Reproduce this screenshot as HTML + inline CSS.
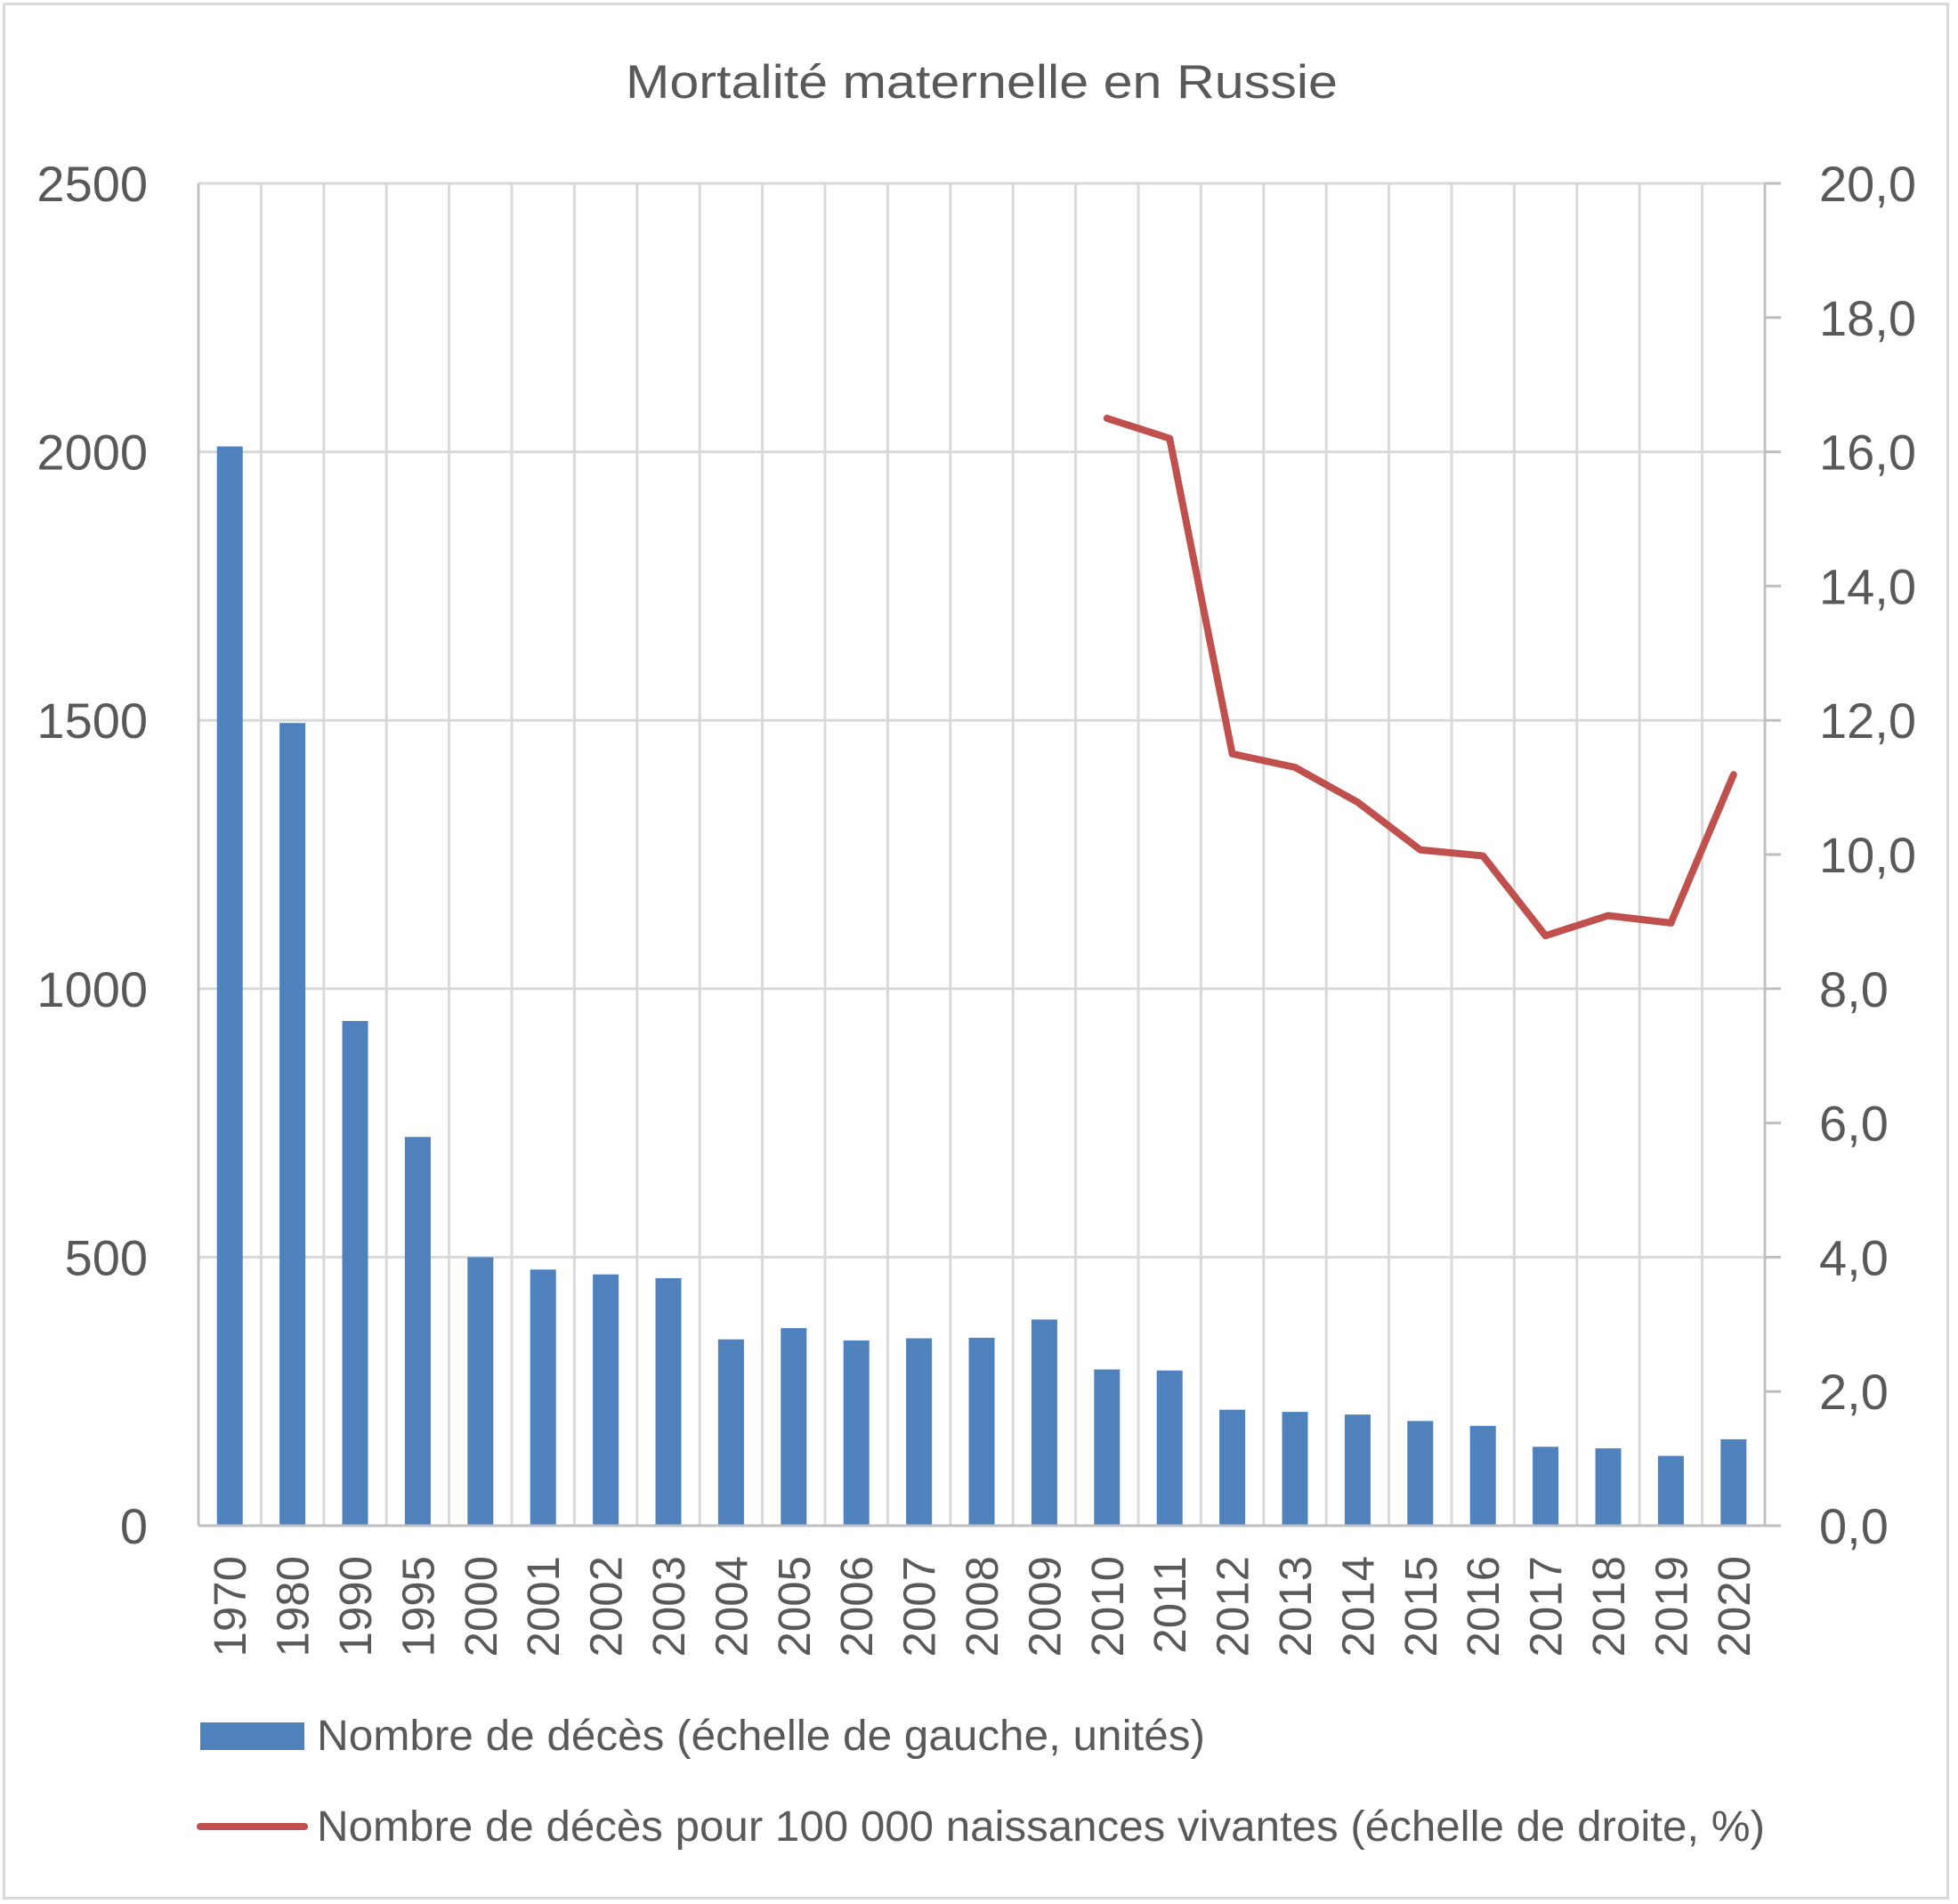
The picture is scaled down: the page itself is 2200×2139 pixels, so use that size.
<!DOCTYPE html>
<html><head><meta charset="utf-8"><style>
html,body{margin:0;padding:0;background:#fff}
svg{display:block}
text{font-family:"Liberation Sans",sans-serif;fill:#595959}
</style></head><body>
<svg width="2200" height="2139" viewBox="0 0 2200 2139" xmlns="http://www.w3.org/2000/svg">
<rect x="0" y="0" width="2200" height="2139" fill="#fff"/>
<rect x="4.5" y="4.5" width="2184" height="2128" fill="none" stroke="#d9d9d9" stroke-width="3"/>
<text x="1103" y="110" font-size="53" text-anchor="middle" textLength="800" lengthAdjust="spacingAndGlyphs">Mortalité maternelle en Russie</text>
<g id="grid" stroke="#d9d9d9" stroke-width="3"></g>
<g id="bars" fill="#4f81bd"></g>
<g id="axes" stroke="#bfbfbf" stroke-width="3"></g>
<g id="labels" font-size="56"></g>
<g id="xlabels" font-size="51"></g>
<polyline id="line" fill="none" stroke="#c0504d" stroke-width="8" stroke-linejoin="round" stroke-linecap="round"/>
<rect x="225" y="1935" width="117" height="31" fill="#4f81bd"/>
<text x="356" y="1966" font-size="48" textLength="998" lengthAdjust="spacingAndGlyphs">Nombre de décès (échelle de gauche, unités)</text>
<line x1="225" y1="2052" x2="342" y2="2052" stroke="#c0504d" stroke-width="8" stroke-linecap="round"/>
<text x="356" y="2068" font-size="48" textLength="1627" lengthAdjust="spacingAndGlyphs">Nombre de décès pour 100 000 naissances vivantes (échelle de droite, %)</text>
</svg>
<script>
const NS="http://www.w3.org/2000/svg";
const L=223,R=1983,T=206,B=1714,n=25,w=(R-L)/n;
const years=["1970","1980","1990","1995","2000","2001","2002","2003","2004","2005","2006","2007","2008","2009","2010","2011","2012","2013","2014","2015","2016","2017","2018","2019","2020"];
const vals=[2010,1495,940,724,500,477,468,461,347,368,345,349,350,384,291,289,216,212,207,195,186,147,144,130,161];
const rate={14:16.5,15:16.2,16:11.5,17:11.3,18:10.78,19:10.07,20:9.98,21:8.79,22:9.09,23:8.98,24:11.19};
function el(t,a,p,txt){const e=document.createElementNS(NS,t);for(const k in a)e.setAttribute(k,a[k]);if(txt)e.textContent=txt;document.getElementById(p).appendChild(e);return e;}
for(let i=1;i<=5;i++){const y=B-(B-T)*i/5;el('line',{x1:L,y1:y,x2:R,y2:y},'grid');}
for(let i=1;i<n;i++){const x=L+w*i;el('line',{x1:x,y1:T,x2:x,y2:B},'grid');}
el('line',{x1:L,y1:T,x2:L,y2:B},'axes');
el('line',{x1:R,y1:T,x2:R,y2:B},'axes');
el('line',{x1:L,y1:B,x2:R+18,y2:B},'axes');
for(let i=0;i<=10;i++){const y=B-(B-T)*i/10;el('line',{x1:R,y1:y,x2:R+18,y2:y},'axes');
 el('text',{x:2044,y:y+20},'labels',(i*2).toFixed(1).replace('.',','));}
for(let i=0;i<=5;i++){const y=B-(B-T)*i/5;el('text',{x:166,y:y+20,'text-anchor':'end'},'labels',String(i*500));}
const bw=29;
vals.forEach((v,i)=>{const cx=L+w*(i+0.5);const h=v/2500*(B-T);
 el('rect',{x:cx-bw/2,y:B-h,width:bw,height:h},'bars');
 el('text',{x:0,y:0,'text-anchor':'end',transform:`translate(${cx+18},1748) rotate(-90)`},'xlabels',years[i]);});
let pts=[];for(const k in rate){const cx=L+w*(+k+0.5);pts.push(cx+','+(B-rate[k]/20*(B-T)));}
document.getElementById('line').setAttribute('points',pts.join(' '));
</script>
</body></html>
